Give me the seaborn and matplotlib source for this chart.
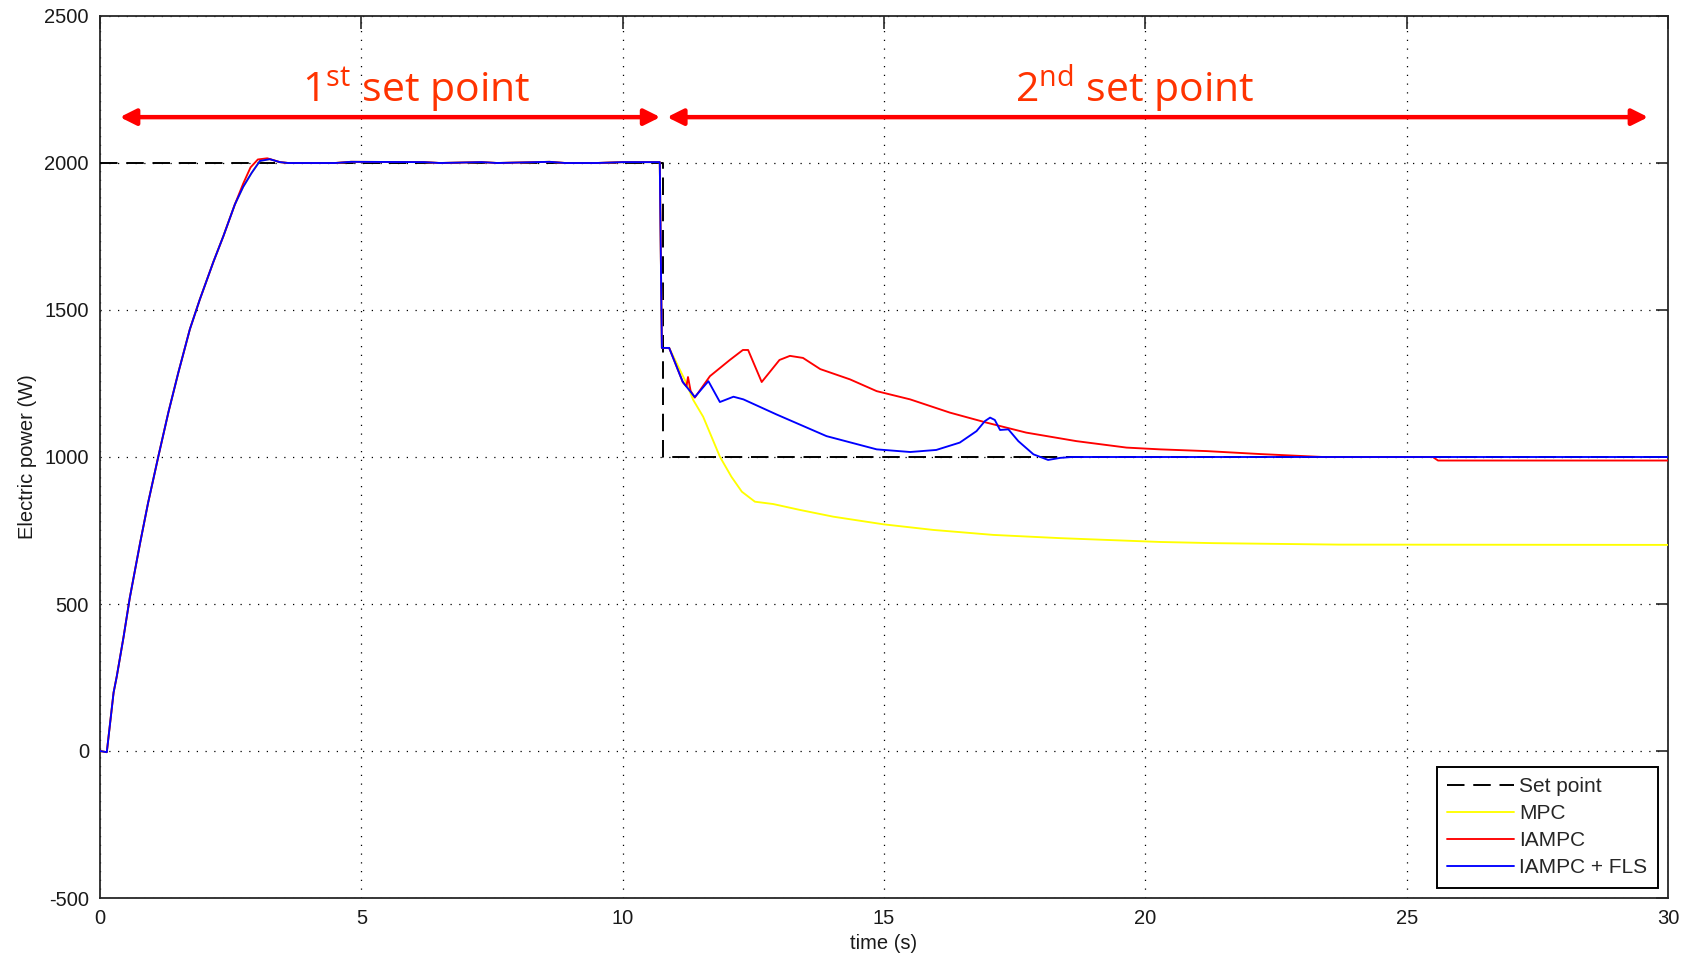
import numpy as np
import pandas as pd
import matplotlib
matplotlib.use("Agg")
import matplotlib.pyplot as plt
import seaborn as sns

# ---------------- data ----------------
# common start-up ramp (all controllers identical)
t_rise = [0.0, 0.13, 0.26, 0.32, 0.45, 0.57, 0.77, 0.92, 1.12, 1.31, 1.50, 1.72,
          1.91, 2.17, 2.36, 2.58, 2.74, 2.90, 3.06, 3.25, 3.44]
p_rise = [0, -4, 199, 253, 387, 521, 710, 844, 1005, 1153, 1288, 1435,
          1536, 1664, 1751, 1859, 1919, 1966, 2007, 2013, 2003]
# holding the 1st set point
t_hold = [3.6, 4.5, 4.8, 6.2, 6.5, 7.3, 7.6, 8.6, 8.9, 9.5, 10.0, 10.2, 10.71]
p_hold = [2000, 2000, 2004, 2003, 2000, 2003, 2000, 2004, 2000, 2000, 2003, 2003, 2003]

# red peaks slightly earlier/higher near the top of the ramp
t_rise_red = [2.74, 2.88, 3.02, 3.20, 3.44]
p_rise_red = [1930, 1985, 2012, 2016, 2003]

# second set point responses
t_mpc2 = [10.75, 10.89, 11.19, 11.35, 11.54, 11.86, 12.08, 12.28, 12.53, 12.88,
          13.39, 14.03, 14.99, 15.94, 17.09, 18.37, 20.28, 21.3, 23.7, 30.0]
p_mpc2 = [1371, 1371, 1262, 1194, 1137, 1001, 933, 882, 848, 840,
          820, 797, 771, 752, 735, 724, 711, 707, 702, 701]

t_iampc2 = [10.75, 10.89, 11.15, 11.22, 11.25, 11.30, 11.38, 11.67, 12.05, 12.30,
            12.40, 12.66, 13.00, 13.20, 13.45, 13.78, 14.35, 14.86, 15.50, 16.26,
            16.96, 17.72, 18.68, 19.64, 20.28, 21.18, 22.20, 23.40, 25.50, 25.60, 30.0]
p_iampc2 = [1371, 1371, 1255, 1240, 1272, 1225, 1202, 1275, 1330, 1364,
            1364, 1255, 1330, 1344, 1337, 1299, 1264, 1224, 1196, 1151,
            1117, 1083, 1054, 1032, 1026, 1020, 1010, 1000, 1000, 988, 988]

t_fls2 = [10.75, 10.89, 11.15, 11.38, 11.64, 11.86, 12.12, 12.31, 12.94, 13.90,
          14.86, 15.50, 16.00, 16.45, 16.77, 16.93, 17.03, 17.12, 17.22, 17.38,
          17.57, 17.86, 18.14, 18.37, 18.60, 30.0]
p_fls2 = [1371, 1371, 1255, 1204, 1258, 1187, 1205, 1196, 1145, 1071,
          1026, 1017, 1024, 1049, 1088, 1122, 1134, 1126, 1092, 1094,
          1054, 1009, 990, 997, 1000, 1000]

t_setpoint = [0.0, 10.77, 10.77, 30.0]
p_setpoint = [2000, 2000, 1000, 1000]

labels = ["Set point", "MPC", "IAMPC", "IAMPC + FLS"]
colors = ["black", "#FFFF00", "#FF0000", "#0000FF"]

x_ticks = [0, 5, 10, 15, 20, 25, 30]
y_ticks = [-500, 0, 500, 1000, 1500, 2000, 2500]

# ---------------- build series ----------------
def red_rise():
    t = [v for v in t_rise if v < t_rise_red[0]] + t_rise_red
    p = [pv for v, pv in zip(t_rise, p_rise) if v < t_rise_red[0]] + p_rise_red
    return t, p

tr, pr = red_rise()
series = {
    "Set point": (t_setpoint, p_setpoint),
    "MPC": (t_rise + t_hold + t_mpc2, p_rise + p_hold + p_mpc2),
    "IAMPC": (tr + t_hold + t_iampc2, pr + p_hold + p_iampc2),
    "IAMPC + FLS": (t_rise + t_hold + t_fls2, p_rise + p_hold + p_fls2),
}

# ---------------- style ----------------
sns.set_theme(style="white")
plt.rcParams["font.family"] = ["Liberation Sans", "DejaVu Sans"]
plt.rcParams["mathtext.default"] = "regular"

fig = plt.figure(figsize=(16.86, 9.56), dpi=100)
ax = fig.add_axes([100 / 1686, 1 - 898 / 956, 1568 / 1686, 882 / 956])

for lab, col in zip(labels, colors):
    t, p = series[lab]
    df = pd.DataFrame({"t": t, "p": p})
    if lab == "Set point":
        sns.lineplot(data=df, x="t", y="p", ax=ax, estimator=None, sort=False,
                     color=col, lw=1.4, label=lab, dashes=False, zorder=3)
        ax.lines[-1].set_dashes((9, 4.5))
    else:
        sns.lineplot(data=df, x="t", y="p", ax=ax, estimator=None, sort=False,
                     color=col, lw=1.35, label=lab, zorder=4)

ax.set_xlim(0, 30)
ax.set_ylim(-500, 2500)
ax.set_xticks(x_ticks)
ax.set_yticks(y_ticks)
ax.set_xticklabels([str(v) for v in x_ticks])
ax.set_yticklabels([str(v) for v in y_ticks])

ax.grid(True, color="black", linestyle=(0, (1, 6)), linewidth=0.9)
ax.set_axisbelow(True)
for sp in ax.spines.values():
    sp.set_color("#262626")
    sp.set_linewidth(1.3)
ax.tick_params(axis="both", which="major", direction="in", length=9, width=1.2,
               color="#262626", top=True, right=True, labelsize=14.5,
               labelcolor="#1a1a1a", pad=8)

ax.set_xlabel("time (s)", fontsize=14.5, color="#1a1a1a", labelpad=4)
ax.set_ylabel("Electric power (W)", fontsize=14.5, color="#1a1a1a", labelpad=5)

leg = ax.legend(loc="lower right", fontsize=15, frameon=True, fancybox=False,
                edgecolor="black", framealpha=1, handlelength=3.2,
                handletextpad=0.25, labelspacing=0.38, borderpad=0.5,
                borderaxespad=0.5)
leg.get_frame().set_linewidth(1.4)

# annotations
txt_color = "#FF3300"
ax.text(6.05, 2207, r"1$^{st}$ set point", ha="center", va="baseline",
        fontsize=29.5, color=txt_color, family=["Open Sans", "DejaVu Sans"])
ax.text(19.8, 2207, r"2$^{nd}$ set point", ha="center", va="baseline",
        fontsize=29.5, color=txt_color, family=["Open Sans", "DejaVu Sans"])
arrow_kw = dict(arrowstyle="<|-|>", color="#FF0000", lw=3.2, mutation_scale=24,
                shrinkA=0, shrinkB=0)
ax.annotate("", xy=(10.72, 2156), xytext=(0.38, 2156), arrowprops=arrow_kw)
ax.annotate("", xy=(29.62, 2156), xytext=(10.85, 2156), arrowprops=arrow_kw)

fig.savefig("out.png", dpi=100)
